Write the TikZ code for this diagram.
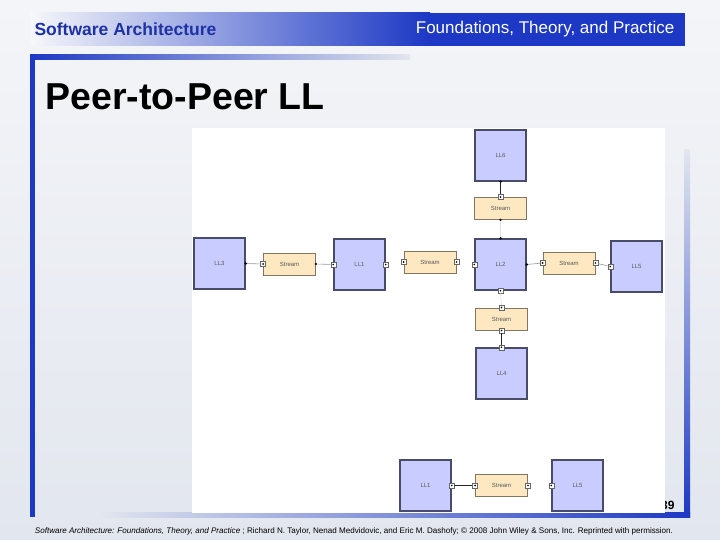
\documentclass[tikz,border=0pt]{standalone}
\usepackage{fontspec}
\setmainfont{Liberation Sans}
\usepackage{xcolor}
\usepackage{tikz}
\usetikzlibrary{positioning}
\definecolor{barblue}{RGB}{28,56,196}
\definecolor{headblue}{RGB}{30,50,165}
\definecolor{slidebg}{RGB}{226,230,238}
\definecolor{compfill}{RGB}{200,204,255}
\definecolor{compline}{RGB}{72,76,104}
\definecolor{connfill}{RGB}{253,232,194}
\definecolor{connline}{RGB}{130,118,96}
\tikzset{
  comp/.style={draw=compline, line width=1.4pt, fill=compfill, minimum width=51pt,
    minimum height=51pt, inner sep=0pt, font=\fontsize{6}{7}\selectfont, text=black!65},
  conn/.style={draw=connline, line width=0.8pt, fill=connfill, minimum width=52pt,
    minimum height=22pt, inner sep=0pt, font=\fontsize{6}{7}\selectfont, text=black!65},
  port/.style={draw=black!60, fill=white, line width=0.4pt, minimum size=5pt, inner sep=0pt,
    path picture={\fill[black] (path picture bounding box.center) circle (0.9pt);}},
  pin/.style={circle, fill=black, minimum size=2.6pt, inner sep=0pt},
  link/.style={draw=black!40, line width=0.6pt},
  faintlink/.style={draw=black!12, line width=0.6pt},
  darklink/.style={draw=black!85, line width=0.9pt},
}

\begin{document}
\begin{tikzpicture}[x=1pt, y=-1pt]
  \useasboundingbox (0,0) rectangle (720,540);
  \fill[top color=slidebg!40!white, bottom color=slidebg] (0,0) rectangle (720,540);

  % header
  \shade[left color=slidebg!30!white, right color=barblue] (30,13) rectangle (430,46);
  \fill[barblue] (430,13) rectangle (685,46);
  \node[anchor=west, font=\fontsize{17.5}{19}\selectfont\bfseries, text=headblue] (shead) at (31,29) {Software Architecture};
  \node[anchor=east, font=\fontsize{17}{19}\selectfont, text=white] (fhead) at (678,29) {Foundations, Theory, and Practice};

  % frame
  \fill[barblue] (30,55) rectangle (35,517);
  \shade[left color=barblue, right color=slidebg] (30,55) rectangle (410,60);
  \shade[top color=slidebg, bottom color=barblue] (684,150) rectangle (690,517);
  \shade[left color=slidebg, right color=barblue] (100,512) rectangle (690,517);

  \node[anchor=west, font=\fontsize{37.5}{40}\selectfont\bfseries] (title) at (42,97) {Peer-to-Peer LL};
  \node[anchor=east, font=\fontsize{12}{14}\selectfont\bfseries] (pnum) at (678,505) {39};

  % diagram panel
  \fill[white] (192,128) rectangle (665,513);

  \node[comp] (ll3) at (219.5,263.5) {LL3};
  \node[comp] (ll1) at (359.5,264.5) {LL1};
  \node[comp] (ll2) at (500.5,264.5) {LL2};
  \node[comp] (ll5) at (636.5,266.5) {LL5};
  \node[comp] (ll6) at (500.5,155.5) {LL6};
  \node[comp] (ll4) at (501.5,373.5) {LL4};
  \node[comp] (llb1) at (425.5,485.5) {LL1};
  \node[comp] (llb5) at (577.5,485.5) {LL5};

  \node[conn] (sa) at (289.5,264) {Stream};
  \node[conn] (sb) at (430,262) {Stream};
  \node[conn] (sc) at (569,263) {Stream};
  \node[conn] (st) at (500.5,208.5) {Stream};
  \node[conn] (sm) at (501.5,319) {Stream};
  \node[conn] (sd) at (501.5,485.5) {Stream};

  % ports
  \node[pin] (p3e) at (ll3.east) {};
  \node[port] (paw) at (sa.west) {};
  \node[pin] (pae) at (sa.east) {};
  \node[port] (p1w) at (ll1.west) {};
  \node[port] (p1e) at (ll1.east) {};
  \node[port] (pbw) at (sb.west) {};
  \node[port] (pbe) at (sb.east) {};
  \node[port] (p2w) at (ll2.west) {};
  \node[pin] (p2n) at (ll2.north) {};
  \node[pin] (p2e) at (ll2.east) {};
  \node[port] (p2s) at (ll2.south) {};
  \node[port] (pcw) at (sc.west) {};
  \node[port] (pce) at (sc.east) {};
  \node[port] (p5w) at (ll5.west) {};
  \node[pin] (p6s) at (ll6.south) {};
  \node[port] (ptn) at (st.north) {};
  \node[pin] (pts) at (st.south) {};
  \node[port] (pmn) at (sm.north) {};
  \node[port] (pms) at (sm.south) {};
  \node[port] (p4n) at (ll4.north) {};
  \node[port] (pb1e) at (llb1.east) {};
  \node[port] (pdw) at (sd.west) {};
  \node[port] (pde) at (sd.east) {};
  \node[port] (pb5w) at (llb5.west) {};

  % links
  \draw[link] (p3e) -- (paw);
  \draw[link] (pae) -- (p1w);
  \draw[link] (p2e) -- (pcw);
  \draw[link] (pce) -- (p5w);
  \draw[darklink] (p6s) -- (ptn);
  \draw[faintlink] (pts) -- (p2n);
  \draw[faintlink] (p2s) -- (pmn);
  \draw[darklink] (pms) -- (p4n);
  \draw[darklink] (pb1e) -- (pdw);

  % footer
  \node[font=\fontsize{7}{8}\selectfont] (foot) at (354,531) {\resizebox{638pt}{!}{\textit{Software Architecture: Foundations, Theory, and Practice} ; Richard N. Taylor, Nenad Medvidovic, and Eric M. Dashofy; \textcopyright{} 2008 John Wiley \& Sons, Inc. Reprinted with permission.}};
\end{tikzpicture}
\end{document}
